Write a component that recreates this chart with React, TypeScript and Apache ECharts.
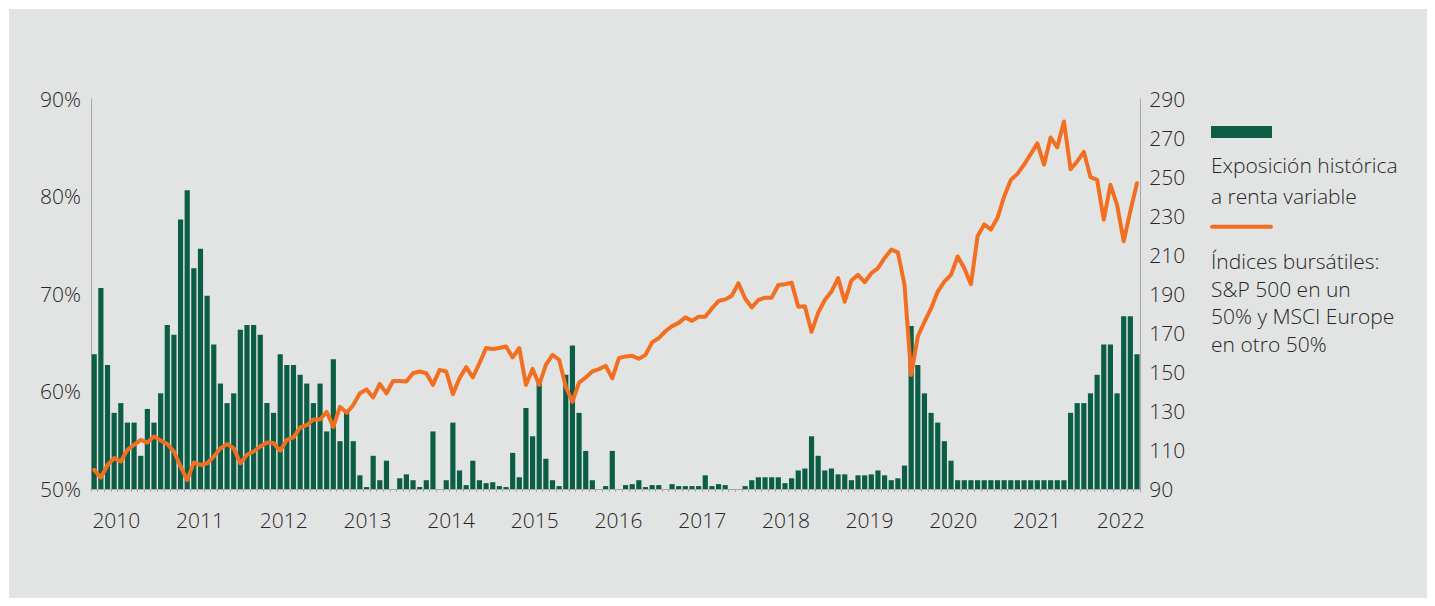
import React, { useEffect, useRef } from "react";
import * as echarts from "echarts";

// Monthly categories, Oct 2009 .. Nov 2022
const categories: string[] = [];
for (let k = 0; k < 158; k++) {
  const m = 9 + k;
  categories.push(`${2009 + Math.floor(m / 12)}-${String((m % 12) + 1).padStart(2, "0")}`);
}

const yearLabels = ["2010", "2011", "2012", "2013", "2014", "2015", "2016", "2017", "2018", "2019", "2020", "2021", "2022"];

// Exposición histórica a renta variable (%)
const exposure = [
  63.8, 70.6, 62.7, 57.8, 58.8, 56.8, 56.8, 53.4, 58.2, 56.8,
  59.8, 66.8, 65.8, 77.6, 80.6, 72.6, 74.6, 69.8, 64.8, 60.8,
  58.8, 59.8, 66.3, 66.8, 66.8, 65.8, 58.8, 57.8, 63.8, 62.7,
  62.7, 61.7, 60.8, 58.8, 60.8, 55.9, 63.3, 54.9, 57.8, 54.9,
  51.4, 50.2, 53.4, 50.9, 52.9, 50, 51.1, 51.5, 50.9, 50.2,
  50.9, 55.9, 50, 50.9, 56.8, 51.9, 50.4, 52.9, 50.9, 50.6,
  50.7, 50.3, 50.2, 53.7, 51.2, 58.3, 55.4, 61.0, 53.1, 50.9,
  50.3, 61.7, 64.7, 57.8, 53.9, 50.9, 50, 50.3, 53.9, 50,
  50.4, 50.5, 50.9, 50.2, 50.4, 50.4, 50, 50.5, 50.3, 50.3,
  50.3, 50.3, 51.4, 50.3, 50.5, 50.4, 50, 50, 50.3, 50.9,
  51.2, 51.2, 51.2, 51.2, 50.6, 51.1, 51.9, 52.1, 55.4, 53.4,
  51.9, 52.1, 51.5, 51.5, 50.9, 51.4, 51.4, 51.5, 51.9, 51.4,
  50.9, 51.1, 52.4, 66.7, 62.7, 59.8, 57.8, 56.8, 54.9, 52.9,
  50.9, 50.9, 50.9, 50.9, 50.9, 50.9, 50.9, 50.9, 50.9, 50.9,
  50.9, 50.9, 50.9, 50.9, 50.9, 50.9, 50.9, 57.8, 58.8, 58.8,
  59.8, 61.7, 64.8, 64.8, 59.8, 67.7, 67.7, 63.8,
];

// Índices bursátiles: S&P 500 50% + MSCI Europe 50%
const indexValues = [
  99.8, 95.8, 102.3, 105.8, 104.1, 110.1, 112.6, 115.2, 113.8, 116.9,
  114.9, 113, 109.2, 101.5, 94.6, 103.5, 102.3, 103.2, 106.6, 110.9,
  113, 110.9, 103.2, 107.5, 109.2, 111.8, 113.8, 113.5, 109.6, 115.2,
  116.4, 121.5, 122.7, 125.6, 125.6, 129.5, 121.8, 132.1, 129, 133,
  139, 141, 136.9, 143.8, 139, 145.3, 145.3, 145, 149.3, 150.2,
  149.3, 143.3, 151, 150.2, 138.6, 146.7, 152.4, 147.2, 154.4, 162.2,
  161.7, 162.2, 163, 157.4, 162.2, 143.3, 151.5, 143.3, 153.6, 158.7,
  156.2, 142.4, 134.7, 144.5, 147.1, 150.2, 151.4, 153.1, 146.7, 157,
  157.9, 158.2, 156.7, 158.7, 165.1, 167.3, 170.8, 173.4, 175.1, 177.9,
  176.1, 178.2, 178.2, 182.5, 186.3, 187.1, 189, 195.4, 187.6, 183,
  186.8, 188, 188, 194.5, 194.9, 195.7, 183.3, 183.6, 170.5, 180.3,
  186.8, 191.1, 198, 185.9, 196.8, 199.7, 195.9, 200.5, 203.1, 208.3,
  212.6, 211.2, 194.5, 148.4, 168.2, 175.6, 182.5, 191.1, 196.2, 199.7,
  209.1, 203.1, 194.9, 219.4, 225.5, 222.9, 228.9, 239.8, 248.3, 251.4,
  256.1, 261.5, 267, 256.1, 270, 265, 278.2, 253.8, 257.8, 262.7,
  249.7, 248.3, 227.9, 245.8, 235.5, 216.9, 232.3, 246.6,
];

const legendBarText = "Exposición histórica\na renta variable";
const legendLineText = "Índices bursátiles:\nS&P 500 en un\n50% y MSCI Europe\nen otro 50%";

const GREEN = "#0b5e45";
const ORANGE = "#f26f21";
const AXIS = "#a8a8a8";
const TEXT = "#262626";
const FONT = "'Open Sans', 'Noto Sans', sans-serif";
const WEIGHT = 300;
const FS = 21;

export default function App() {
  const ref = useRef<HTMLDivElement>(null);

  useEffect(() => {
    if (!ref.current) return;
    const chart = echarts.init(ref.current, undefined, { renderer: "svg" });
    const labelStyle = { color: TEXT, fontFamily: FONT, fontSize: FS, fontWeight: WEIGHT };
    chart.setOption({
      animation: false,
      backgroundColor: "transparent",
      grid: [
        { left: 81.9, right: 286.7, top: 89.5, bottom: 109, outerBoundsMode: "none", containLabel: false },
        { left: 65.5, right: 264.5, top: 89.5, bottom: 109, outerBoundsMode: "none", containLabel: false },
      ],
      xAxis: [
        {
          type: "category",
          gridIndex: 0,
          data: categories,
          boundaryGap: true,
          axisLine: { show: true, lineStyle: { color: AXIS, width: 1 } },
          axisTick: { show: true, interval: 0, length: 3, lineStyle: { color: AXIS } },
          axisLabel: { show: false },
          splitLine: { show: false },
        },
        {
          type: "category",
          gridIndex: 1,
          data: yearLabels,
          boundaryGap: true,
          axisLine: { show: false },
          axisTick: { show: false },
          axisLabel: { ...labelStyle, interval: 0, margin: 20.5 },
          splitLine: { show: false },
        },
      ],
      yAxis: [
        {
          type: "value",
          gridIndex: 0,
          position: "left",
          min: 50,
          max: 90,
          interval: 10,
          axisLine: { show: true, lineStyle: { color: AXIS, width: 1 } },
          axisTick: { show: false },
          splitLine: { show: false },
          axisLabel: { ...labelStyle, margin: 10, formatter: "{value}%" },
        },
        {
          type: "value",
          gridIndex: 0,
          position: "right",
          min: 90,
          max: 290,
          interval: 20,
          axisLine: { show: true, lineStyle: { color: AXIS, width: 1 } },
          axisTick: { show: false },
          splitLine: { show: false },
          axisLabel: { ...labelStyle, margin: 9 },
        },
        {
          type: "value",
          gridIndex: 1,
          min: 0,
          max: 1,
          show: false,
        },
      ],
      series: [
        {
          name: "Exposición histórica a renta variable",
          type: "bar",
          xAxisIndex: 0,
          yAxisIndex: 0,
          data: exposure,
          barCategoryGap: "22%",
          itemStyle: { color: GREEN },
          silent: true,
        },
        {
          name: "Índices bursátiles",
          type: "line",
          xAxisIndex: 0,
          yAxisIndex: 1,
          data: indexValues,
          showSymbol: false,
          symbol: "none",
          lineStyle: { color: ORANGE, width: 4, join: "round", cap: "round" },
          itemStyle: { color: ORANGE },
          z: 5,
          silent: true,
        },
      ],
      graphic: [
        {
          type: "rect",
          shape: { x: 1202, y: 117, width: 61, height: 12 },
          style: { fill: GREEN },
        },
        {
          type: "text",
          x: 1202,
          y: 140.5,
          style: {
            text: legendBarText,
            fill: TEXT,
            fontFamily: FONT,
            fontSize: FS,
            fontWeight: WEIGHT,
            lineHeight: 31,
            verticalAlign: "top",
            align: "left",
          },
        },
        {
          type: "line",
          shape: { x1: 1203, y1: 217.7, x2: 1262, y2: 217.7 },
          style: { stroke: ORANGE, lineWidth: 4, lineCap: "round" },
        },
        {
          type: "text",
          x: 1202,
          y: 238,
          style: {
            text: legendLineText,
            fill: TEXT,
            fontFamily: FONT,
            fontSize: FS,
            fontWeight: WEIGHT,
            lineHeight: 27.7,
            verticalAlign: "top",
            align: "left",
          },
        },
      ],
    });
    return () => chart.dispose();
  }, []);

  return (
    <div
      ref={ref}
      style={{ position: "absolute", left: 9, top: 9, width: 1418, height: 589, background: "#e2e4e3" }}
    />
  );
}
